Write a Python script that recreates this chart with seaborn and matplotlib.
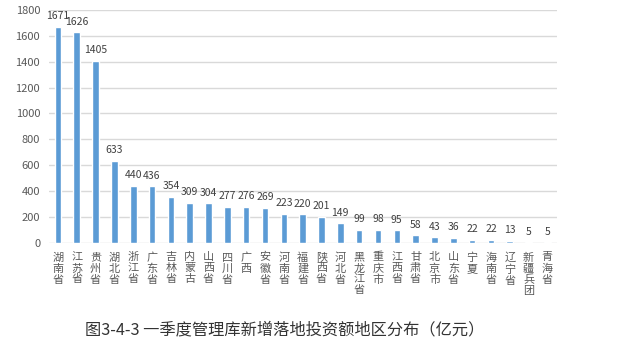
import matplotlib
matplotlib.use("Agg")
import matplotlib.pyplot as plt
import seaborn as sns
import pandas as pd

# Chart data
regions = ["湖南省", "江苏省", "贵州省", "湖北省", "浙江省", "广东省", "吉林省",
           "内蒙古", "山西省", "四川省", "广西", "安徽省", "河南省", "福建省",
           "陕西省", "河北省", "黑龙江省", "重庆市", "江西省", "甘肃省", "北京市",
           "山东省", "宁夏", "海南省", "辽宁省", "新疆兵团", "青海省"]
amounts = [1671, 1626, 1405, 633, 440, 436, 354, 309, 304, 277, 276, 269, 223,
           220, 201, 149, 99, 98, 95, 58, 43, 36, 22, 22, 13, 5, 5]
y_ticks = [0, 200, 400, 600, 800, 1000, 1200, 1400, 1600, 1800]
caption = "图3-4-3 一季度管理库新增落地投资额地区分布（亿元）"

sns.set_style("white")
plt.rcParams['font.family'] = ['Noto Sans CJK SC', 'DejaVu Sans']

df = pd.DataFrame({"region": regions, "amount": amounts})

fig = plt.figure(figsize=(6.18, 3.54), dpi=100)
ax = fig.add_axes([0.0785, 0.3144, 0.8225, 0.6574])

sns.barplot(data=df, x="region", y="amount", color="#5B9BD5", width=0.35,
            saturation=1, ax=ax)

ax.set_ylim(0, 1800)
ax.set_yticks(y_ticks)
ax.set_xlim(-0.5, len(regions) - 0.5)
ax.yaxis.grid(True, color="#D9D9D9", linewidth=1)
ax.set_axisbelow(True)
for s in ax.spines.values():
    s.set_visible(False)
ax.set_xlabel("")
ax.set_ylabel("")
ax.tick_params(axis="y", length=0, labelsize=8, labelcolor="#595959", pad=6)
ax.tick_params(axis="x", length=0, pad=7)
ax.set_xticks(range(len(regions)))
ax.set_xticklabels(["\n".join(r) for r in regions], fontsize=8,
                   color="#595959", va="top", linespacing=1.12)

# value labels
for i, v in enumerate(amounts):
    ax.annotate(str(v), (i, v), xytext=(0, 4), textcoords="offset points",
                ha="center", va="bottom", fontsize=7.5, color="#404040")

fig.text(0.461, 0.069, caption, ha="center", va="center", fontsize=11.7,
         color="#333333")

fig.savefig("out.png", dpi=100)
